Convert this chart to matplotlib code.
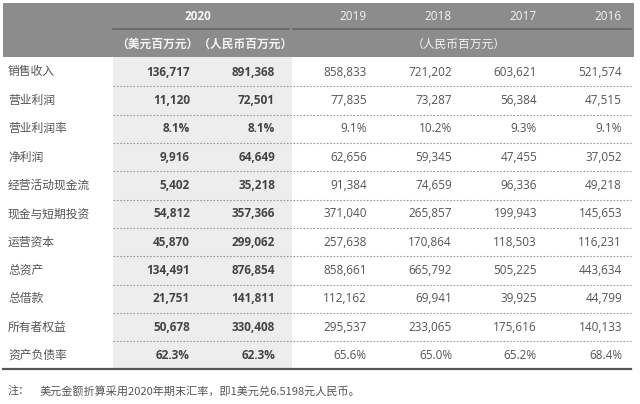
import matplotlib
matplotlib.use("Agg")
import matplotlib.pyplot as plt

plt.rcParams['font.family'] = ['Noto Sans CJK SC', 'DejaVu Sans']
num_font = ['Open Sans', 'Noto Sans CJK SC', 'DejaVu Sans']

# Table content
row_labels = ["销售收入", "营业利润", "营业利润率", "净利润", "经营活动现金流",
              "现金与短期投资", "运营资本", "总资产", "总借款", "所有者权益", "资产负债率"]
usd_2020 = ["136,717", "11,120", "8.1%", "9,916", "5,402", "54,812",
            "45,870", "134,491", "21,751", "50,678", "62.3%"]
rmb_2020 = ["891,368", "72,501", "8.1%", "64,649", "35,218", "357,366",
            "299,062", "876,854", "141,811", "330,408", "62.3%"]
years = ["2019", "2018", "2017", "2016"]
rmb_hist = [
    ["858,833", "721,202", "603,621", "521,574"],
    ["77,835", "73,287", "56,384", "47,515"],
    ["9.1%", "10.2%", "9.3%", "9.1%"],
    ["62,656", "59,345", "47,455", "37,052"],
    ["91,384", "74,659", "96,336", "49,218"],
    ["371,040", "265,857", "199,943", "145,653"],
    ["257,638", "170,864", "118,503", "116,231"],
    ["858,661", "665,792", "505,225", "443,634"],
    ["112,162", "69,941", "39,925", "44,799"],
    ["295,537", "233,065", "175,616", "140,133"],
    ["65.6%", "65.0%", "65.2%", "68.4%"],
]
note = "美元金额折算采用2020年期末汇率，即1美元兑6.5198元人民币。"

# Layout (pixels)
W, H = 640, 404
row0 = 72
row_h = 28.35
col_usd = 190
col_rmb = 275
col_hist = [367, 452, 537, 622]

fig = plt.figure(figsize=(6.4, 4.04), dpi=100)
ax = fig.add_axes([0, 0, 1, 1])
ax.set_xlim(0, W)
ax.set_ylim(H, 0)
ax.axis('off')

# header band
ax.add_patch(plt.Rectangle((3, 3), 631, 54, color='#8c8c8c', lw=0))
# shaded 2020 column
ax.add_patch(plt.Rectangle((113, 57), 179, 312, color='#ededed', lw=0))
# header underlines
ax.plot([113, 289], [29, 29], color='#6a6a6a', lw=1.3)
ax.plot([293, 631], [29, 29], color='#6a6a6a', lw=1.3)

hdr_color = '#f4f4f4'
ax.text(198, 16, "2020", color=hdr_color, fontsize=8.5, fontweight='bold',
        ha='center', va='center', family=num_font)
for x, y in zip(col_hist, years):
    ax.text(x, 16, y, color=hdr_color, fontsize=8.5, ha='right', va='center',
            family=num_font)
ax.text(204, 44, "（美元百万元）（人民币百万元）", color=hdr_color, fontsize=8.5,
        fontweight='bold', ha='center', va='center')
ax.text(459, 44, "（人民币百万元）", color=hdr_color, fontsize=8.5,
        ha='center', va='center')

txt = '#555555'
for i, lab in enumerate(row_labels):
    y = row0 + i * row_h
    ax.text(8, y, lab, color=txt, fontsize=8.5, ha='left', va='center')
    ax.text(col_usd, y, usd_2020[i], color='#444444', fontsize=8.5,
            fontweight='bold', ha='right', va='center', family=num_font)
    ax.text(col_rmb, y, rmb_2020[i], color='#444444', fontsize=8.5,
            fontweight='bold', ha='right', va='center', family=num_font)
    for x, v in zip(col_hist, rmb_hist[i]):
        ax.text(x, y, v, color=txt, fontsize=8.5, ha='right', va='center',
                family=num_font)
    if i < len(row_labels) - 1:
        ys = y + row_h / 2
        ax.plot([113, 631], [ys, ys], color='#9a9a9a', lw=0.8,
                linestyle=(0, (1.5, 1.5)))

# bottom rule
ax.plot([3, 631], [369, 369], color='#555555', lw=1.6)

ax.text(8, 391, "注：", color=txt, fontsize=8, ha='left', va='center')
ax.text(40, 391, note, color=txt, fontsize=8, ha='left', va='center')

fig.savefig("out.png", dpi=100, facecolor='white')
